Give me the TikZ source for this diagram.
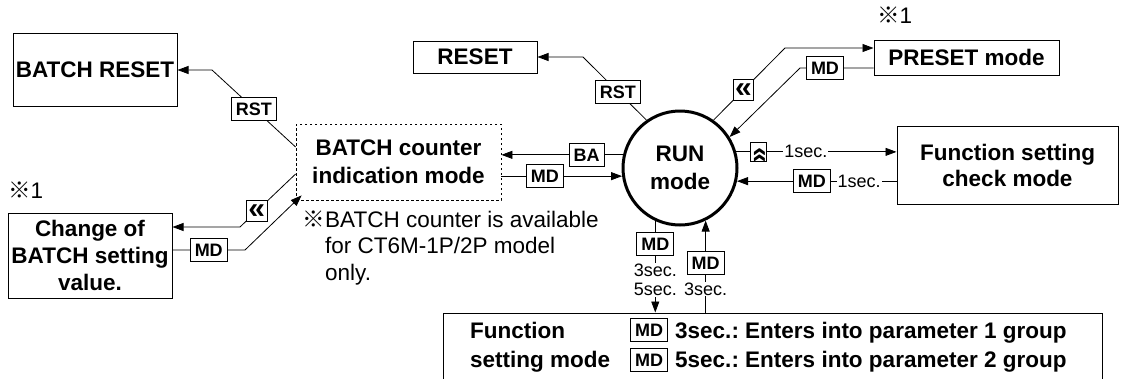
\documentclass[tikz,border=0pt]{standalone}
\usepackage{fontspec}
\setmainfont{Liberation Sans}
\newfontfamily\cjk{Noto Sans CJK JP}
\usetikzlibrary{arrows.meta,calc}
\frenchspacing
\begin{document}
\begin{tikzpicture}[x=1pt,y=-1pt,
  box/.style={draw,line width=1pt,inner sep=0pt,align=center,font=\fontsize{22.5}{27}\selectfont\bfseries},
  lab/.style={draw,fill=white,line width=0.9pt,font=\fontsize{18}{18}\selectfont\bfseries,inner xsep=4.5pt,inner ysep=5pt,text height=13pt,text depth=0pt},
  guil/.style={font=\fontsize{30}{30}\selectfont\bfseries,inner xsep=2pt,inner ysep=3pt,text height=15pt},
  sm/.style={fill=white,inner sep=1pt,font=\fontsize{18}{19}\selectfont},
  txt/.style={inner sep=0pt,font=\fontsize{22.5}{27}\selectfont},
  btxt/.style={inner sep=0pt,font=\fontsize{22.5}{27}\selectfont\bfseries},
  conn/.style={line width=0.8pt},
  arr/.style={conn,-{Triangle[length=11pt,width=8pt]}},
]
\fill[white] (0,0) rectangle (1133,378);
\useasboundingbox (0,0) rectangle (1133,378);
\clip (0,0) rectangle (1133,378);

% boxes
\node[box,minimum width=164pt,minimum height=73pt] (batchreset) at (95,70) {BATCH RESET};
\node[box,minimum width=124pt,minimum height=32pt] (reset) at (475,57) {RESET};
\node[box,minimum width=185pt,minimum height=35pt] (preset) at (966.5,57.5) {PRESET mode};
\node[box,minimum width=221pt,minimum height=78pt,font=\fontsize{22.5}{26}\selectfont\bfseries] (fcheck) at (1007.5,165) {Function setting\\check mode};
\node[box,dash pattern=on 2.5pt off 2.5pt,line width=0.8pt,minimum width=205pt,minimum height=76pt,font=\fontsize{22.5}{28}\selectfont\bfseries] (batchind) at (398.5,162) {BATCH counter\\indication mode};
\node[box,minimum width=164pt,minimum height=85pt] (change) at (90,255.5) {Change of\\BATCH setting\\value.};
\node[circle,draw,line width=3pt,minimum size=114pt,inner sep=0pt,align=center,font=\fontsize{22.5}{28}\selectfont\bfseries] (run) at (680,168) {RUN\\mode};
\node[draw,line width=1pt,minimum width=659pt,minimum height=87pt,inner sep=0pt] (fsm) at (772.5,356.5) {};

% texts
\node[txt,anchor=base west] (note) at (325,227) {\llap{\cjk ※}BATCH counter is available};
\node[txt,anchor=base west] (note2) at (325,253) {for CT6M-1P/2P model};
\node[txt,anchor=base west] (note3) at (325,280) {only.};
\node[txt,anchor=base west] (star1) at (8,198) {{\cjk ※}1};
\node[txt,anchor=base west] (star2) at (877,23) {{\cjk ※}1};

\node[btxt,anchor=base west] (f1) at (470,338) {Function};
\node[btxt,anchor=base west] (f2) at (470,367) {setting mode};
\node[lab] (md1) at (649,330) {MD};
\node[lab] (md2) at (649,360) {MD};
\node[btxt,anchor=base west] (p1) at (675,338) {3sec.: Enters into parameter 1 group};
\node[btxt,anchor=base west] (p2) at (675,367) {5sec.: Enters into parameter 2 group};

% connectors
\draw[arr] ([yshift=15pt]batchind.west) -- node[lab,pos=0.5]{RST} (212,70) -- (batchreset.east);
\draw[arr] ([yshift=-12pt]batchind.west) -- node[lab,guil,pos=0.7]{«} (240,227) -- (change.east |- 0,227);
\draw[arr] (change.east |- 0,250) -- node[lab]{MD} (245,250) -- ([shift={(6pt,5pt)}]batchind.south west);
\draw[arr] (run.167) -- node[lab,pos=0.3]{BA} (run.167 -| batchind.east);
\draw[arr] (run.188 -| batchind.east) -- node[lab,pos=0.36]{MD} (run.188);
\draw[arr] (run.125) -- node[lab,pos=0.45]{RST} (583,57) -- (reset.east);
\draw[arr] (run.55) -- node[lab,guil,pos=0.42]{«} (785,48) -- (preset.west |- 0,48);
\draw[arr] (preset.west |- 0,68) -- node[lab,pos=0.66]{MD} (800,68) -- (run.32);
\draw[arr] (run.16) -- node[lab,pos=0.14,inner xsep=1.5pt,inner ysep=2pt,text height=15pt,font=\fontsize{28}{28}\selectfont\bfseries]{\raisebox{-2pt}{\rotatebox[origin=c]{-90}{«}}} node[sm,pos=0.435]{1sec.} (run.16 -| fcheck.west);
\draw[arr] (run.347 -| fcheck.west) -- node[sm,pos=0.235]{1sec.} node[lab,pos=0.53]{MD} (run.347);
\draw[arr] (run.245) -- node[lab,pos=0.25]{MD} node[sm,pos=0.645,align=left]{3sec.\\5sec.} (run.245 |- fsm.north);
\draw[arr] (run.296 |- fsm.north) -- node[sm,pos=0.255]{3sec.} node[lab,pos=0.54]{MD} (run.296);
\end{tikzpicture}
\end{document}
